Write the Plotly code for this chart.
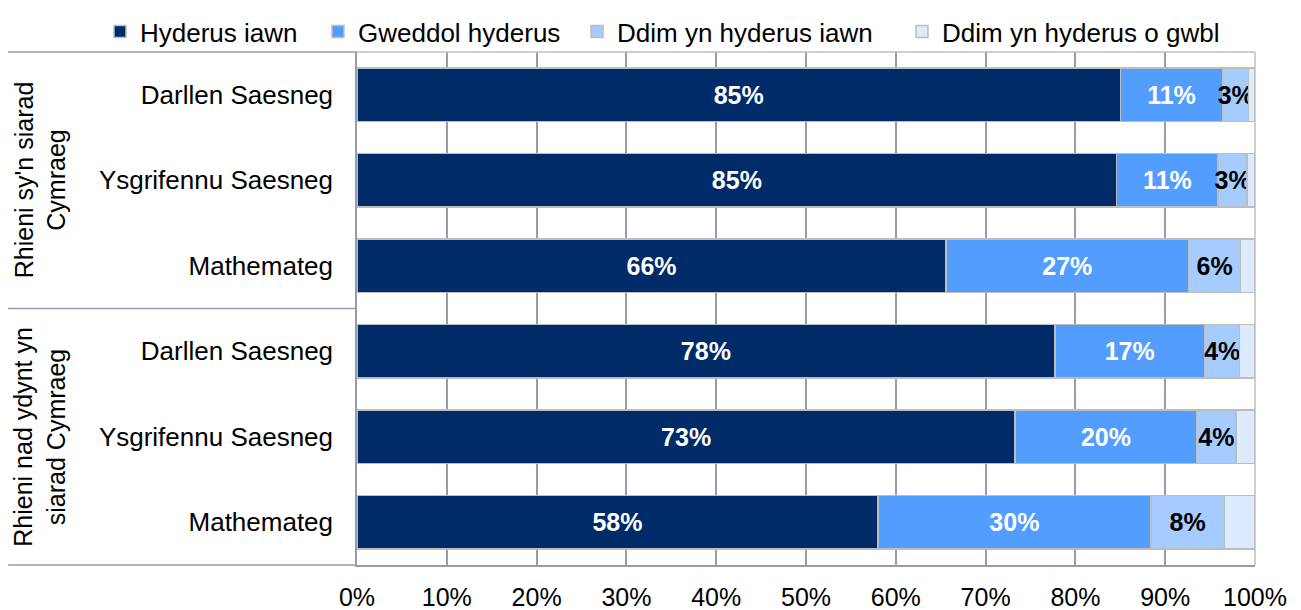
import plotly.graph_objects as go

categories = ["Darllen Saesneg", "Ysgrifennu Saesneg", "Mathemateg",
              "Darllen Saesneg", "Ysgrifennu Saesneg", "Mathemateg"]
groups = ["Rhieni sy'n siarad<br>Cymraeg", "Rhieni nad ydynt yn<br>siarad Cymraeg"]
series_names = ["Hyderus iawn", "Gweddol hyderus", "Ddim yn hyderus iawn", "Ddim yn hyderus o gwbl"]
hyderus_iawn = [85.0, 84.6, 65.6, 77.7, 73.3, 58.0]
gweddol_hyderus = [11.4, 11.3, 27.0, 16.7, 20.2, 30.4]
ddim_iawn = [2.9, 3.2, 5.8, 3.9, 4.4, 8.2]
ddim_o_gwbl = [0.7, 0.9, 1.6, 1.7, 2.1, 3.4]
x_ticks = [0, 10, 20, 30, 40, 50, 60, 70, 80, 90, 100]

colors = ["#002B69", "#539DFF", "#A5CBFF", "#DDEBFF"]
text_colors = ["white", "white", "black", None]
series = [hyderus_iawn, gweddol_hyderus, ddim_iawn, ddim_o_gwbl]
legend_ids = ["legend", "legend2", "legend3", "legend4"]
legend_px = [92, 310, 569, 894]

FONT = "Arial, Liberation Sans, sans-serif"
ypos = list(range(len(categories)))

PL, PR, PT, PB = 349, 1247, 44, 557
PW, PH = PR - PL, PB - PT

fig = go.Figure()
for name, vals, col, tcol, lid in zip(series_names, series, colors, text_colors, legend_ids):
    if tcol is not None:
        kw = dict(text=[f"{round(v)}%" for v in vals], textposition="inside",
                  insidetextanchor="middle", textangle=0, constraintext="none",
                  insidetextfont=dict(family=FONT, size=25, color=tcol, weight="bold"))
    else:
        kw = dict(textposition="none")
    fig.add_trace(go.Bar(y=ypos, x=vals, name=name, orientation="h", legend=lid,
                         marker=dict(color=col, line=dict(color="#BDBDBD", width=1.5)),
                         cliponaxis=False, **kw))

legend_common = dict(orientation="h", xref="paper", yref="paper", xanchor="left",
                     yanchor="top", y=(PB - 0) / PH, bgcolor="rgba(0,0,0,0)",
                     font=dict(family=FONT, size=26, color="black"))
layout_legends = {}
for lid, px in zip(legend_ids, legend_px):
    layout_legends[lid] = dict(legend_common, x=(px - PL) / PW)

fig.update_layout(
    barmode="stack", bargap=0.37,
    width=1301, height=610,
    margin=dict(l=PL, r=1301 - PR, t=PT, b=610 - PB, autoexpand=False),
    paper_bgcolor="white", plot_bgcolor="white",
    font=dict(family=FONT, size=25, color="black"),
    showlegend=True,
    xaxis=dict(range=[0, 100], tickvals=x_ticks, ticktext=[f"{t}%" for t in x_ticks],
               showgrid=True, gridcolor="#9A9AAE", gridwidth=1.5,
               zeroline=False, showline=True, linecolor="#9A9AAE", linewidth=1.5,
               tickfont=dict(family=FONT, size=25), ticks="", ticklabelstandoff=9),
    yaxis=dict(range=[len(categories) - 0.5, -0.5], tickvals=ypos, ticktext=categories,
               showgrid=False, zeroline=False, showline=True, linecolor="#9A9AAE",
               linewidth=1.5, tickfont=dict(family=FONT, size=26), ticks="",
               ticklabelstandoff=17),
    **layout_legends,
)

# plot frame top/right
fig.add_shape(type="line", xref="paper", yref="paper", x0=0, x1=1, y0=1, y1=1,
              line=dict(color="#BFBFBF", width=1.5))
fig.add_shape(type="line", xref="paper", yref="paper", x0=1, x1=1, y0=0, y1=1,
              line=dict(color="#BFBFBF", width=1.5))

# group separators on the left
left = (0 - PL) / PW
for yy in [0, 0.5, 1]:
    fig.add_shape(type="line", xref="paper", yref="paper", x0=left, x1=0, y0=yy, y1=yy,
                  line=dict(color="#9A9AAE", width=1.5))

gx = (32 - PL) / PW
for i, g in enumerate(groups):
    fig.add_annotation(text=g, xref="paper", yref="paper", x=gx, y=0.75 - 0.5 * i,
                       textangle=-90, showarrow=False, xanchor="center", yanchor="middle",
                       font=dict(family=FONT, size=25, color="black"), align="center")

fig.write_html("out.html")
